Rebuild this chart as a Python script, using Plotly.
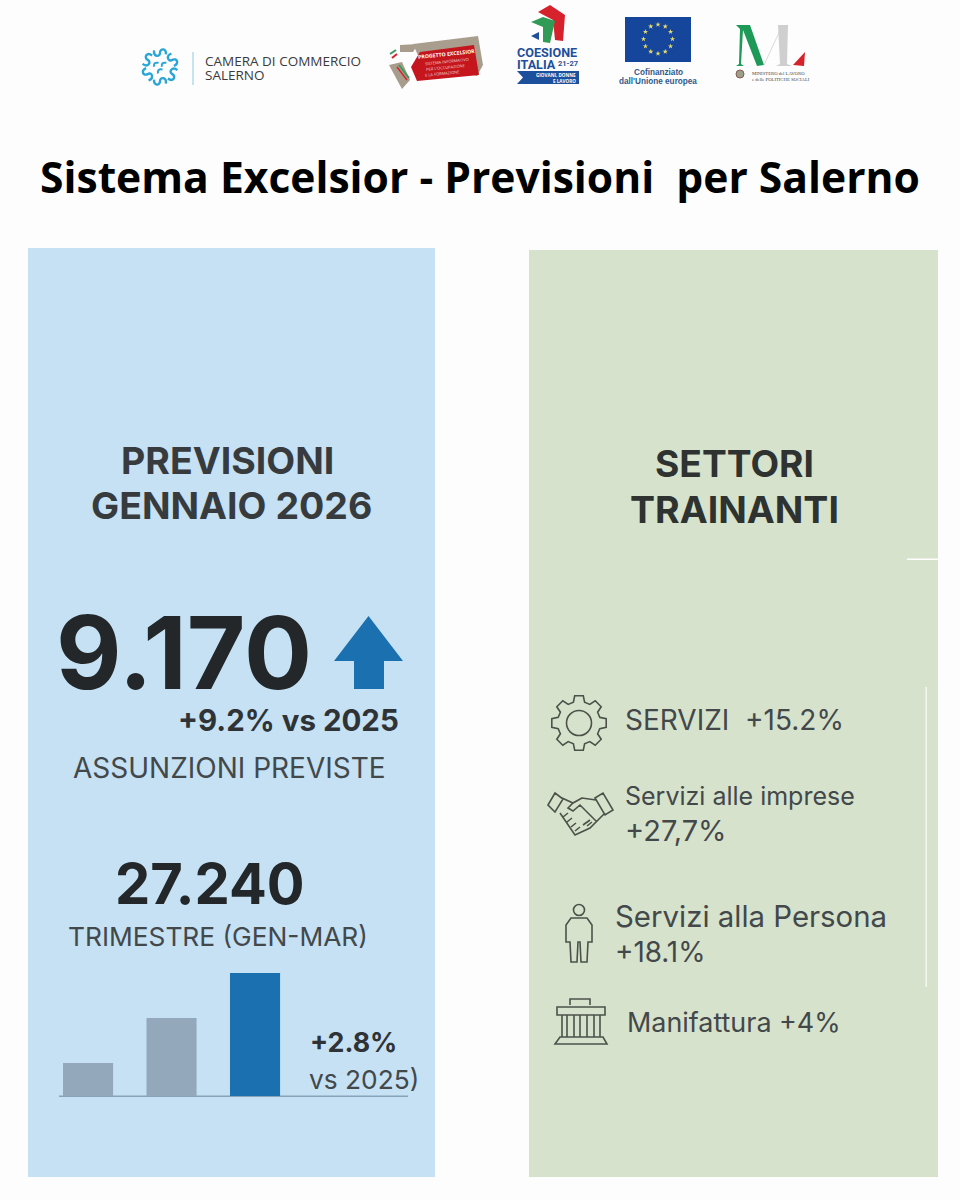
import math
import plotly.graph_objects as go

# === Data ===
bar_labels = ["a", "b", "c"]
bar_values = [33, 78, 123]
bar_colors = ["#93a8bb", "#93a8bb", "#1b70b0"]

title_text = "Sistema Excelsior - Previsioni  per Salerno"
left_head = ["PREVISIONI", "GENNAIO 2026"]
right_head = ["SETTORI", "TRAINANTI"]

DARK = "#2a2e31"
GREY = "#43484b"
ICON = "#4c5249"
SANS = "Open Sans"
PANEL = "Inter"

fig = go.Figure()
shapes = []
notes = []


def txt(x, y, s, size, color=DARK, weight=400, anchor="left", family=PANEL, angle=0):
    notes.append(dict(x=x, y=y, xref="x", yref="y", text=s, showarrow=False,
                      xanchor=anchor, yanchor="middle", borderpad=0, textangle=angle,
                      font=dict(family=family, size=size, color=color, weight=weight)))


def fill(path, color, line=None, lw=0):
    shapes.append(dict(type="path", xref="x", yref="y", path=path, fillcolor=color,
                       line=dict(color=line or color, width=lw), layer="below"))


def stroke(path, color=ICON, lw=1.6):
    shapes.append(dict(type="path", xref="x", yref="y", path=path,
                       line=dict(color=color, width=lw), layer="below"))


def rect(x0, y0, x1, y1, color, lw=0, line=None):
    shapes.append(dict(type="rect", xref="x", yref="y", x0=x0, y0=y0, x1=x1, y1=y1,
                       fillcolor=color, line=dict(color=line or color, width=lw), layer="below"))


def circle(cx, cy, r, color=None, line=ICON, lw=1.6):
    shapes.append(dict(type="circle", xref="x", yref="y", x0=cx - r, y0=cy - r, x1=cx + r, y1=cy + r,
                       fillcolor=color or "rgba(0,0,0,0)", line=dict(color=line, width=lw), layer="below"))


# === Panels ===
rect(0, 0, 960, 1200, "#fdfdfd")
rect(28, 248, 435, 1177, "#c5e1f3")
rect(529, 250, 938, 1177, "#d6e2cc")
rect(907, 558.5, 938, 560, "#ffffff")
rect(925.5, 687, 927, 987, "#f4f7f1")

# === Header logos ===
# Camera di Commercio: six S hooks around three small ones
LOGO_C = "#2aa5d6"
hook = [(-7, 2), (-8, -6), (0, -7), (0, -1), (0, 5), (8, 5), (7, -3)]
for k in range(6):
    a = math.radians(60 * k + 30)
    ux, uy = -math.sin(a), math.cos(a)
    vx, vy = math.cos(a), math.sin(a)
    pts = [(160 + 15 * vx + u * ux * 0.85 + v * vx * 0.8, 67 + 15 * vy + u * uy * 0.85 + v * vy * 0.8)
           for u, v in hook]
    s = [f"{x:.1f},{y:.1f}" for x, y in pts]
    stroke(f"M {s[0]} C {s[1]} {s[2]} {s[3]} C {s[4]} {s[5]} {s[6]}", LOGO_C, 2.4)
for k in range(3):
    a = math.radians(120 * k + 90)
    cx, cy = 160 + 4.5 * math.cos(a), 67 + 4.5 * math.sin(a)
    stroke(f"M {cx + 2.5:.1f},{cy - 2:.1f} Q {cx - 3:.1f},{cy - 3:.1f} {cx - 2:.1f},{cy + 2:.1f}", LOGO_C, 2)
rect(192.5, 52, 193.5, 85, "#8fcbe3")
txt(204, 60.5, "CAMERA DI COMMERCIO", 13.5, "#3a3a3c", family=SANS)
txt(204, 74.5, "SALERNO", 13.5, "#3a3a3c", family=SANS)

# Progetto Excelsior
fill("M 400,45 L 418,44 L 413,52 L 400,52 Z", "#a89c8c")
fill("M 389,65 L 402,62 L 410,80 L 402,89 Z", "#a89c8c")
fill("M 413,44 L 478,36 L 483,65 L 477,76 L 420,60 Z", "#a99d8e")
fill("M 420,52 L 474,45 L 479,75 L 417,81 L 411,67 Z", "#c4161c")
stroke("M 390,54 L 396,50", "#3c9a5f", 2)
stroke("M 392,58 L 397,54", "#d5222d", 2)
stroke("M 399,65 L 409,78", "#3c9a5f", 2)
stroke("M 397,67 L 407,80", "#d5222d", 1.4)
txt(446, 54, "PROGETTO EXCELSIOR", 5.2, "#ffffff", 700, "center", SANS, -6)
txt(447, 61.5, "SISTEMA INFORMATIVO", 4, "#f6d8d8", 400, "center", SANS, -6)
txt(445, 67, "PER L'OCCUPAZIONE", 4, "#f6d8d8", 400, "center", SANS, -6)
txt(442, 73, "E LA FORMAZIONE", 4, "#f6d8d8", 400, "center", SANS, -6)

# Coesione Italia
fill("M 538,12 L 550,5 L 565,15 L 563,41 L 555,40 L 553,20 Z", "#d5222d")
fill("M 531,22 L 543,17 L 555,21 L 550,43 L 543,42 L 543,27 Z", "#2f9b57")
fill("M 531,36 L 539,32 L 539,40 Z", "#1f4e9c")
txt(516, 52.5, "COESIONE", 12.6, "#1c4f9c", 700, family="Roboto")
txt(516, 64, "ITALIA", 12.6, "#1c4f9c", 700, family="Roboto")
txt(579, 63, "21-27", 7.5, "#1c4f9c", 700, "right", "Roboto")
fill("M 517,71 L 579,71 L 579,84 L 517,84 L 523,77.5 Z", "#1c4f9c")
txt(577, 74.5, "GIOVANI, DONNE", 4.6, "#ffffff", 700, "right", SANS)
txt(577, 80.5, "E LAVORO", 4.6, "#ffffff", 700, "right", SANS)

# Bandiera UE
rect(625, 17, 691, 62, "#15469c")
txt(658, 72.5, "Cofinanziato", 8.2, "#2e5a8c", 700, "center", "Liberation Sans")
txt(658, 81, "dall'Unione europea", 8.2, "#2e5a8c", 700, "center", "Liberation Sans")

# Ministero
fill("M 736,25 L 750,25 L 764,65 L 757,66 L 743,30 L 741,64 L 744,66 L 736,66 L 739,64 L 740,29 Z", "#1d9a57")
stroke("M 764,65 L 782,26", "#cfcfcf", 0.8)
fill("M 778,25 L 788,25 L 787,64 L 792,66 L 776,66 L 780,64 Z", "#cfcfcf")
fill("M 793,65 L 805,52 L 804,66 Z", "#d5222d")
circle(740, 74, 4, "#9aa08c", "#8a5a50", 1)
txt(751, 73, "MINISTERO del LAVORO", 4.7, "#444444", 400, family="Liberation Serif")
txt(751, 79, "e delle POLITICHE SOCIALI", 4.7, "#444444", 400, family="Liberation Serif")

# === Title ===
txt(480, 176, title_text, 42.6, "#000000", 700, "center", SANS)

# === Left panel ===
txt(227, 460, left_head[0], 37.5, "#373b3e", 700, "center")
txt(231, 505, left_head[1], 37.5, "#373b3e", 700, "center")
txt(184, 652, "9.170", 101, "#23272a", 700, "center")
fill("M 368.5,616 L 403,661 L 384,661 L 384,689 L 354,689 L 354,661 L 334,661 Z", "#1b70b0")
txt(400, 720, "+9.2% vs 2025", 29.5, "#2f3336", 700, "right")
txt(229, 768, "ASSUNZIONI PREVISTE", 28, GREY, 400, "center")
txt(210, 884, "27.240", 56, "#23272a", 700, "center")
txt(218, 936, "TRIMESTRE (GEN-MAR)", 26.3, GREY, 400, "center")
txt(309, 1042, "+2.8%", 26.8, "#2f3336", 700)
txt(308, 1079, "vs 2025)", 26.3, GREY)
rect(59, 1095.5, 408, 1097, "#88a3b9")

# === Right panel ===
txt(734, 463, right_head[0], 37.2, "#2e3230", 700, "center")
txt(734, 509, right_head[1], 37.5, "#2e3230", 700, "center")
txt(623.5, 720, "SERVIZI  +15.2%", 28, GREY)
txt(623.5, 796, "Servizi alle imprese", 25, GREY)
txt(623.5, 830, "+27,7%", 29, GREY)
txt(613.5, 916, "Servizi alla Persona", 29.4, GREY)
txt(613.5, 952, "+18.1%", 27.8, GREY)
txt(625.5, 1022, "Manifattura +4%", 26.9, GREY)

# Gear icon
gear = []
for k in range(8):
    a = math.radians(45 * k)
    for d, r in [(-15, 21.5), (-9, 27.5), (9, 27.5), (15, 21.5)]:
        t = a + math.radians(d)
        gear.append((579 + r * math.cos(t), 723 + r * math.sin(t)))
stroke("M " + " L ".join(f"{x:.1f},{y:.1f}" for x, y in gear) + " Z")
circle(579, 723, 12.5)

# Handshake icon
stroke("M 548,805 L 555,793 L 563,799 L 555,812 Z M 595,798 L 603,793 L 613,810 L 605,815 Z "
       "M 562,798 L 573,803 L 582,798 L 596,800 "
       "M 605,813 L 590,828 L 575,835 L 560,813 "
       "M 582,798 L 573,803 L 568,808 L 573,811 L 580,805 L 597,822 "
       "M 563,817 L 568,813 M 567,822 L 572,818 M 571,827 L 576,823 M 575,831 L 580,827 "
       "M 583,825 L 590,820 M 587,826 L 592,822")
# Person icon
circle(579, 910, 5.5)
stroke("M 571,918 L 587,918 L 592,925 L 592,942 L 588,942 L 587,962 L 581,962 L 580,942 "
       "L 578,942 L 577,962 L 571,962 L 570,942 L 566,942 L 566,925 Z")
# Building icon
stroke("M 570,1005 L 570,999 L 590,999 L 590,1005 M 557,1007 L 605,1007 L 605,1015 L 557,1015 Z "
       "M 562,1015 L 562,1037 M 567,1015 L 567,1037 M 574,1015 L 574,1037 M 580,1015 L 580,1037 "
       "M 587,1015 L 587,1037 M 594,1015 L 594,1037 M 600,1015 L 600,1037 "
       "M 560,1037 L 603,1037 L 607,1044 L 555,1044 Z")

# === Traces ===
# EU stars, on the page-pixel axes
star_x = [658 + 14.5 * math.sin(math.radians(30 * k)) for k in range(12)]
star_y = [39 - 14.5 * math.cos(math.radians(30 * k)) for k in range(12)]
fig.add_trace(go.Scatter(x=star_x, y=star_y, mode="markers", showlegend=False, hoverinfo="skip",
                         marker=dict(symbol="star", size=4, color="#e8dc6a"),
                         xaxis="x", yaxis="y"))

fig.add_trace(go.Bar(x=[0, 1, 2], y=bar_values, marker=dict(color=bar_colors, line=dict(width=0)),
                     width=0.6, showlegend=False, hovertext=bar_labels, hoverinfo="text",
                     xaxis="x2", yaxis="y2"))

# === Layout ===
fig.update_layout(
    width=960, height=1200,
    margin=dict(l=0, r=0, t=0, b=0),
    paper_bgcolor="#fdfdfd", plot_bgcolor="rgba(0,0,0,0)",
    shapes=shapes, annotations=notes,
    xaxis=dict(domain=[0, 1], range=[0, 960], visible=False, fixedrange=True),
    yaxis=dict(domain=[0, 1], range=[1200, 0], visible=False, fixedrange=True),
    # bar axes sit on the pixel box of the small chart: x 58-412, y 973-1096
    xaxis2=dict(domain=[58 / 960, 412 / 960], range=[-0.36, 3.88], visible=False, anchor="y2"),
    yaxis2=dict(domain=[1 - 1096 / 1200, 1 - 973 / 1200], range=[0, 123], visible=False, anchor="x2"),
)

fig.write_html("out.html", config={"displayModeBar": False}, post_script="document.body.style.margin='0';")
